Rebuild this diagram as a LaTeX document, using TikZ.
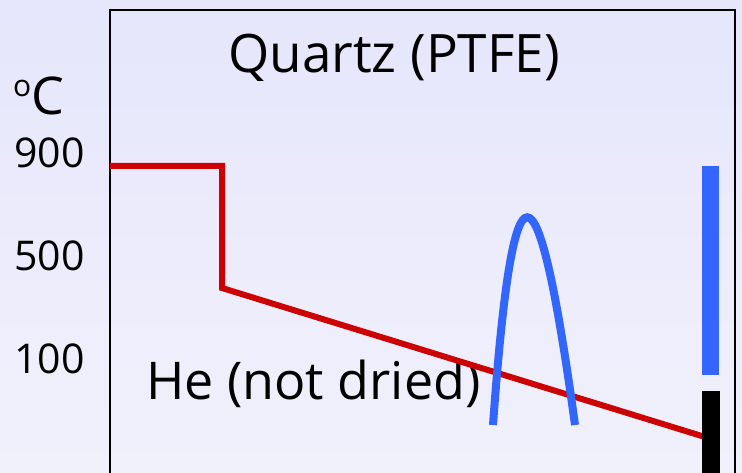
\documentclass[tikz,border=0pt]{standalone}
\usepackage{fontspec}
\setmainfont{Open Sans}
\usepackage{xcolor}
\usepackage{tikz}
\definecolor{bgtop}{RGB}{230,230,252}
\definecolor{bgbottom}{RGB}{241,241,252}
\definecolor{tempred}{RGB}{204,0,0}
\definecolor{peakblue}{RGB}{51,102,255}

\begin{document}
\begin{tikzpicture}[x=1pt, y=-1pt,
  lbl/.style={anchor=base west, inner sep=0pt, text=black},
  axisnum/.style={lbl, font=\fontsize{41}{41}\selectfont}]
  \useasboundingbox (0,0) rectangle (742,473);
  \shade[top color=bgtop, bottom color=bgbottom] (0,0) rectangle (742,473);

  % frame, open at the bottom
  \draw[line width=2pt] (110,473) -- (110,10) -- (735,10) -- (735,473);

  \node[lbl, font=\fontsize{53}{53}\selectfont] (title) at (228,73) {Quartz (PTFE)};
  \node[lbl, font=\fontsize{52}{52}\selectfont] (unit) at (13,115)
    {\raisebox{18pt}{\fontsize{30}{30}\selectfont o}C};
  \node[axisnum] (t900) at (14,168) {900};
  \node[axisnum] (t500) at (14,271) {500};
  \node[axisnum] (t100) at (14,373) {100};
  \node[lbl, font=\fontsize{52}{52}\selectfont] (gas) at (146,399) {He (not dried)};

  % temperature program
  \draw[tempred, line width=6pt] (110,166) -- (222,166) -- (222,288) -- (705,437);

  % desorption peak
  \draw[peakblue, line width=8pt] (493,425) .. controls (513,148) and (537,148) .. (575,425);

  % bars at the right edge
  \fill[peakblue] (702,166) rectangle (719,375);
  \fill[black] (702,391) rectangle (720,473);
\end{tikzpicture}
\end{document}
